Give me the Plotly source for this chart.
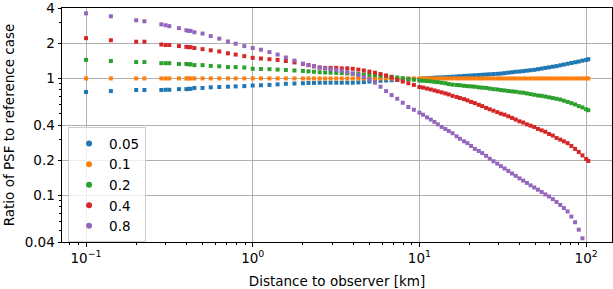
import plotly.graph_objects as go

distance_km = [
    0.1, 0.141, 0.2, 0.224, 0.283, 0.3, 0.316, 0.361, 0.4, 0.412, 0.424, 0.447, 0.5,
    0.56, 0.63, 0.71, 0.79, 0.89, 1.0, 1.12, 1.26, 1.41, 1.58, 1.78, 2.0,
    2.16, 2.33, 2.52, 2.72, 2.93, 3.17, 3.42, 3.69, 3.98, 4.3, 4.64, 5.01, 5.41, 5.84, 6.31, 6.81, 7.36, 7.94, 8.58, 9.26, 10.0,
    10.5, 11.1, 11.7, 12.3, 12.9, 13.6, 14.3, 15.0, 15.8, 16.7, 17.5, 18.5, 19.4, 20.4, 21.5, 22.7, 23.8, 25.1, 26.4, 27.8,
    29.3, 30.8, 32.4, 34.1, 35.9, 37.8, 39.8, 41.9, 44.1, 46.4, 48.8, 51.4, 54.1, 56.9, 59.9, 63.1, 66.4, 69.9, 73.5, 77.4,
    81.5, 85.8, 90.3, 95.0, 100.0, 103.0,
]

ratio_005 = [
    0.766, 0.78, 0.797, 0.797, 0.797, 0.80, 0.80, 0.81, 0.81, 0.815, 0.815, 0.829, 0.829,
    0.84, 0.845, 0.85, 0.855, 0.86, 0.87, 0.875, 0.88, 0.89, 0.90, 0.905, 0.91,
    0.915, 0.915, 0.92, 0.92, 0.92, 0.92, 0.92, 0.92, 0.92, 0.925, 0.93, 0.94, 0.95, 0.955, 0.96, 0.965, 0.97, 0.975, 0.98, 0.985, 0.99,
    1.0, 1.005, 1.01, 1.015, 1.02, 1.022, 1.025, 1.03, 1.035, 1.04, 1.045, 1.05, 1.055, 1.06, 1.065, 1.07, 1.075, 1.08, 1.085, 1.09,
    1.095, 1.10, 1.11, 1.12, 1.13, 1.14, 1.145, 1.155, 1.165, 1.175, 1.185, 1.20, 1.215, 1.23, 1.245, 1.26, 1.275, 1.295, 1.315, 1.335,
    1.355, 1.375, 1.395, 1.42, 1.44, 1.46,
]

ratio_01 = [
    1, 1, 1, 1, 1, 1, 1, 1, 1, 1, 1, 1, 1,
    1, 1, 1, 1, 1, 1, 1, 1, 1, 1, 1, 1,
    1, 1, 1, 1, 1, 1, 1, 1, 1, 1, 1, 1, 1, 1, 1, 1, 1, 1, 1, 1, 1,
    1, 1, 1, 1, 1, 1, 1, 1, 1, 1, 1, 1, 1, 1, 1, 1, 1, 1, 1, 1,
    1, 1, 1, 1, 1, 1, 1, 1, 1, 1, 1, 1, 1, 1, 1, 1, 1, 1, 1, 1,
    1, 1, 1, 1, 1, 1,
]

ratio_02 = [
    1.44, 1.41, 1.38, 1.38, 1.35, 1.35, 1.35, 1.33, 1.33, 1.32, 1.32, 1.30, 1.30,
    1.28, 1.27, 1.25, 1.25, 1.24, 1.21, 1.205, 1.20, 1.19, 1.18, 1.17, 1.16,
    1.15, 1.14, 1.13, 1.125, 1.12, 1.115, 1.11, 1.105, 1.10, 1.09, 1.08, 1.07, 1.065, 1.055, 1.05, 1.035, 1.02, 1.005, 0.99, 0.975, 0.96,
    0.955, 0.95, 0.945, 0.935, 0.93, 0.92, 0.91, 0.895, 0.885, 0.88, 0.875, 0.865, 0.86, 0.855, 0.85, 0.84, 0.835, 0.83, 0.82, 0.81,
    0.805, 0.795, 0.79, 0.78, 0.775, 0.77, 0.76, 0.755, 0.745, 0.735, 0.725, 0.715, 0.71, 0.70, 0.69, 0.68, 0.67, 0.66, 0.645, 0.63,
    0.615, 0.60, 0.58, 0.565, 0.545, 0.535,
]

ratio_04 = [
    2.21, 2.12, 2.06, 2.06, 1.95, 1.93, 1.93, 1.89, 1.86, 1.85, 1.85, 1.82, 1.78,
    1.74, 1.70, 1.64, 1.60, 1.55, 1.50, 1.48, 1.46, 1.44, 1.41, 1.37, 1.33,
    1.30, 1.27, 1.24, 1.23, 1.23, 1.23, 1.22, 1.22, 1.21, 1.19, 1.17, 1.145, 1.12, 1.09, 1.06, 1.02, 0.97, 0.94, 0.91, 0.88, 0.845,
    0.835, 0.82, 0.805, 0.79, 0.775, 0.76, 0.745, 0.73, 0.71, 0.695, 0.68, 0.665, 0.65, 0.63, 0.615, 0.595, 0.58, 0.56, 0.545, 0.53,
    0.515, 0.50, 0.49, 0.475, 0.46, 0.445, 0.43, 0.42, 0.405, 0.395, 0.385, 0.37, 0.36, 0.35, 0.335, 0.325, 0.31, 0.30, 0.29, 0.28,
    0.265, 0.25, 0.235, 0.22, 0.205, 0.197,
]

ratio_08 = [
    3.60, 3.40, 3.14, 3.08, 2.90, 2.85, 2.80, 2.69, 2.58, 2.55, 2.55, 2.48, 2.42,
    2.30, 2.19, 2.07, 1.98, 1.89, 1.82, 1.76, 1.68, 1.60, 1.51, 1.42, 1.34,
    1.30, 1.27, 1.24, 1.22, 1.20, 1.18, 1.16, 1.13, 1.10, 1.07, 1.03, 0.98, 0.92, 0.85, 0.78, 0.72, 0.67, 0.62, 0.57, 0.54, 0.51,
    0.49, 0.465, 0.445, 0.425, 0.405, 0.385, 0.37, 0.355, 0.34, 0.32, 0.305, 0.29, 0.28, 0.265, 0.25, 0.24, 0.23, 0.218, 0.206, 0.196,
    0.187, 0.178, 0.17, 0.162, 0.154, 0.147, 0.14, 0.134, 0.128, 0.122, 0.117, 0.112, 0.107, 0.102, 0.098, 0.093, 0.088, 0.083, 0.078, 0.073,
    0.066, 0.059, 0.051, 0.043, 0.036, 0.032,
]

series_labels = ["0.05", "0.1", "0.2", "0.4", "0.8"]
series_values = [ratio_005, ratio_01, ratio_02, ratio_04, ratio_08]
series_colors = ["#1f77b4", "#ff7f0e", "#2ca02c", "#d62728", "#9467bd"]

x_tick_vals = [0.1, 1, 10, 100]
x_tick_text = ["10<sup>\u22121</sup>", "10<sup>0</sup>", "10<sup>1</sup>", "10<sup>2</sup>"]
x_minor_vals = [0.08, 0.09, 0.2, 0.3, 0.4, 0.5, 0.6, 0.7, 0.8, 0.9,
                2, 3, 4, 5, 6, 7, 8, 9, 20, 30, 40, 50, 60, 70, 80, 90]
y_tick_vals = [0.04, 0.1, 0.2, 0.4, 1, 2, 4]
y_tick_text = ["0.04", "0.1", "0.2", "0.4", "1", "2", "4"]
y_minor_vals = [0.05, 0.06, 0.07, 0.08, 0.09, 0.3, 0.5, 0.6, 0.7, 0.8, 0.9, 3]

for v in series_values:
    assert len(v) == len(distance_km), (len(v), len(distance_km))

fig = go.Figure()
for lab, col, ys in zip(series_labels, series_colors, series_values):
    fig.add_trace(go.Scatter(
        x=distance_km, y=ys, mode="markers", name=lab,
        marker=dict(symbol="square", size=4, color=col, line=dict(width=0)),
        showlegend=False,
    ))
for i, (lab, col) in enumerate(zip(series_labels, series_colors)):
    fig.add_trace(go.Scatter(
        x=[None], y=[None], mode="markers", name=lab,
        marker=dict(symbol="circle", size=6, color=col),
        showlegend=True,
    ))

axis_common = dict(
    type="log", showline=True, linecolor="black", linewidth=1, mirror=True,
    ticks="outside", ticklen=3.5, tickwidth=0.8, tickcolor="black",
    showgrid=True, gridcolor="#b0b0b0", gridwidth=0.8, zeroline=False,
    tickfont=dict(size=13.5, color="black"), automargin=False,
    ticklabeloverflow="allow",
)

fig.update_xaxes(
    **axis_common,
    range=[-1.144, 2.155],
    tickmode="array", tickvals=x_tick_vals, ticktext=x_tick_text,
    minor=dict(tickmode="array", tickvals=x_minor_vals, ticks="outside", ticklen=2,
               tickwidth=0.6, tickcolor="black", showgrid=False),
    title=dict(text="Distance to observer [km]", font=dict(size=13.5, color="black"), standoff=13),
)
fig.update_yaxes(
    **axis_common,
    range=[-1.39796, 0.60208],
    tickmode="array", tickvals=y_tick_vals, ticktext=y_tick_text,
    minor=dict(tickmode="array", tickvals=y_minor_vals, ticks="outside", ticklen=2,
               tickwidth=0.6, tickcolor="black", showgrid=False),
    title=dict(text="Ratio of PSF to reference case", font=dict(size=13.5, color="black"), standoff=7),
)

fig.update_layout(
    width=613, height=289,
    margin=dict(l=62, r=1, t=8, b=47),
    paper_bgcolor="white", plot_bgcolor="white",
    font=dict(family="DejaVu Sans", size=13.5, color="black"),
    showlegend=True,
    legend=dict(
        x=0.011, y=0.49, xanchor="left", yanchor="top",
        bgcolor="rgba(255,255,255,0.8)", bordercolor="#cccccc", borderwidth=1,
        font=dict(size=13.5, color="black"),
    ),
)

fig.write_html("out.html", config={"displayModeBar": False},
               post_script="document.body.style.margin='0';")
